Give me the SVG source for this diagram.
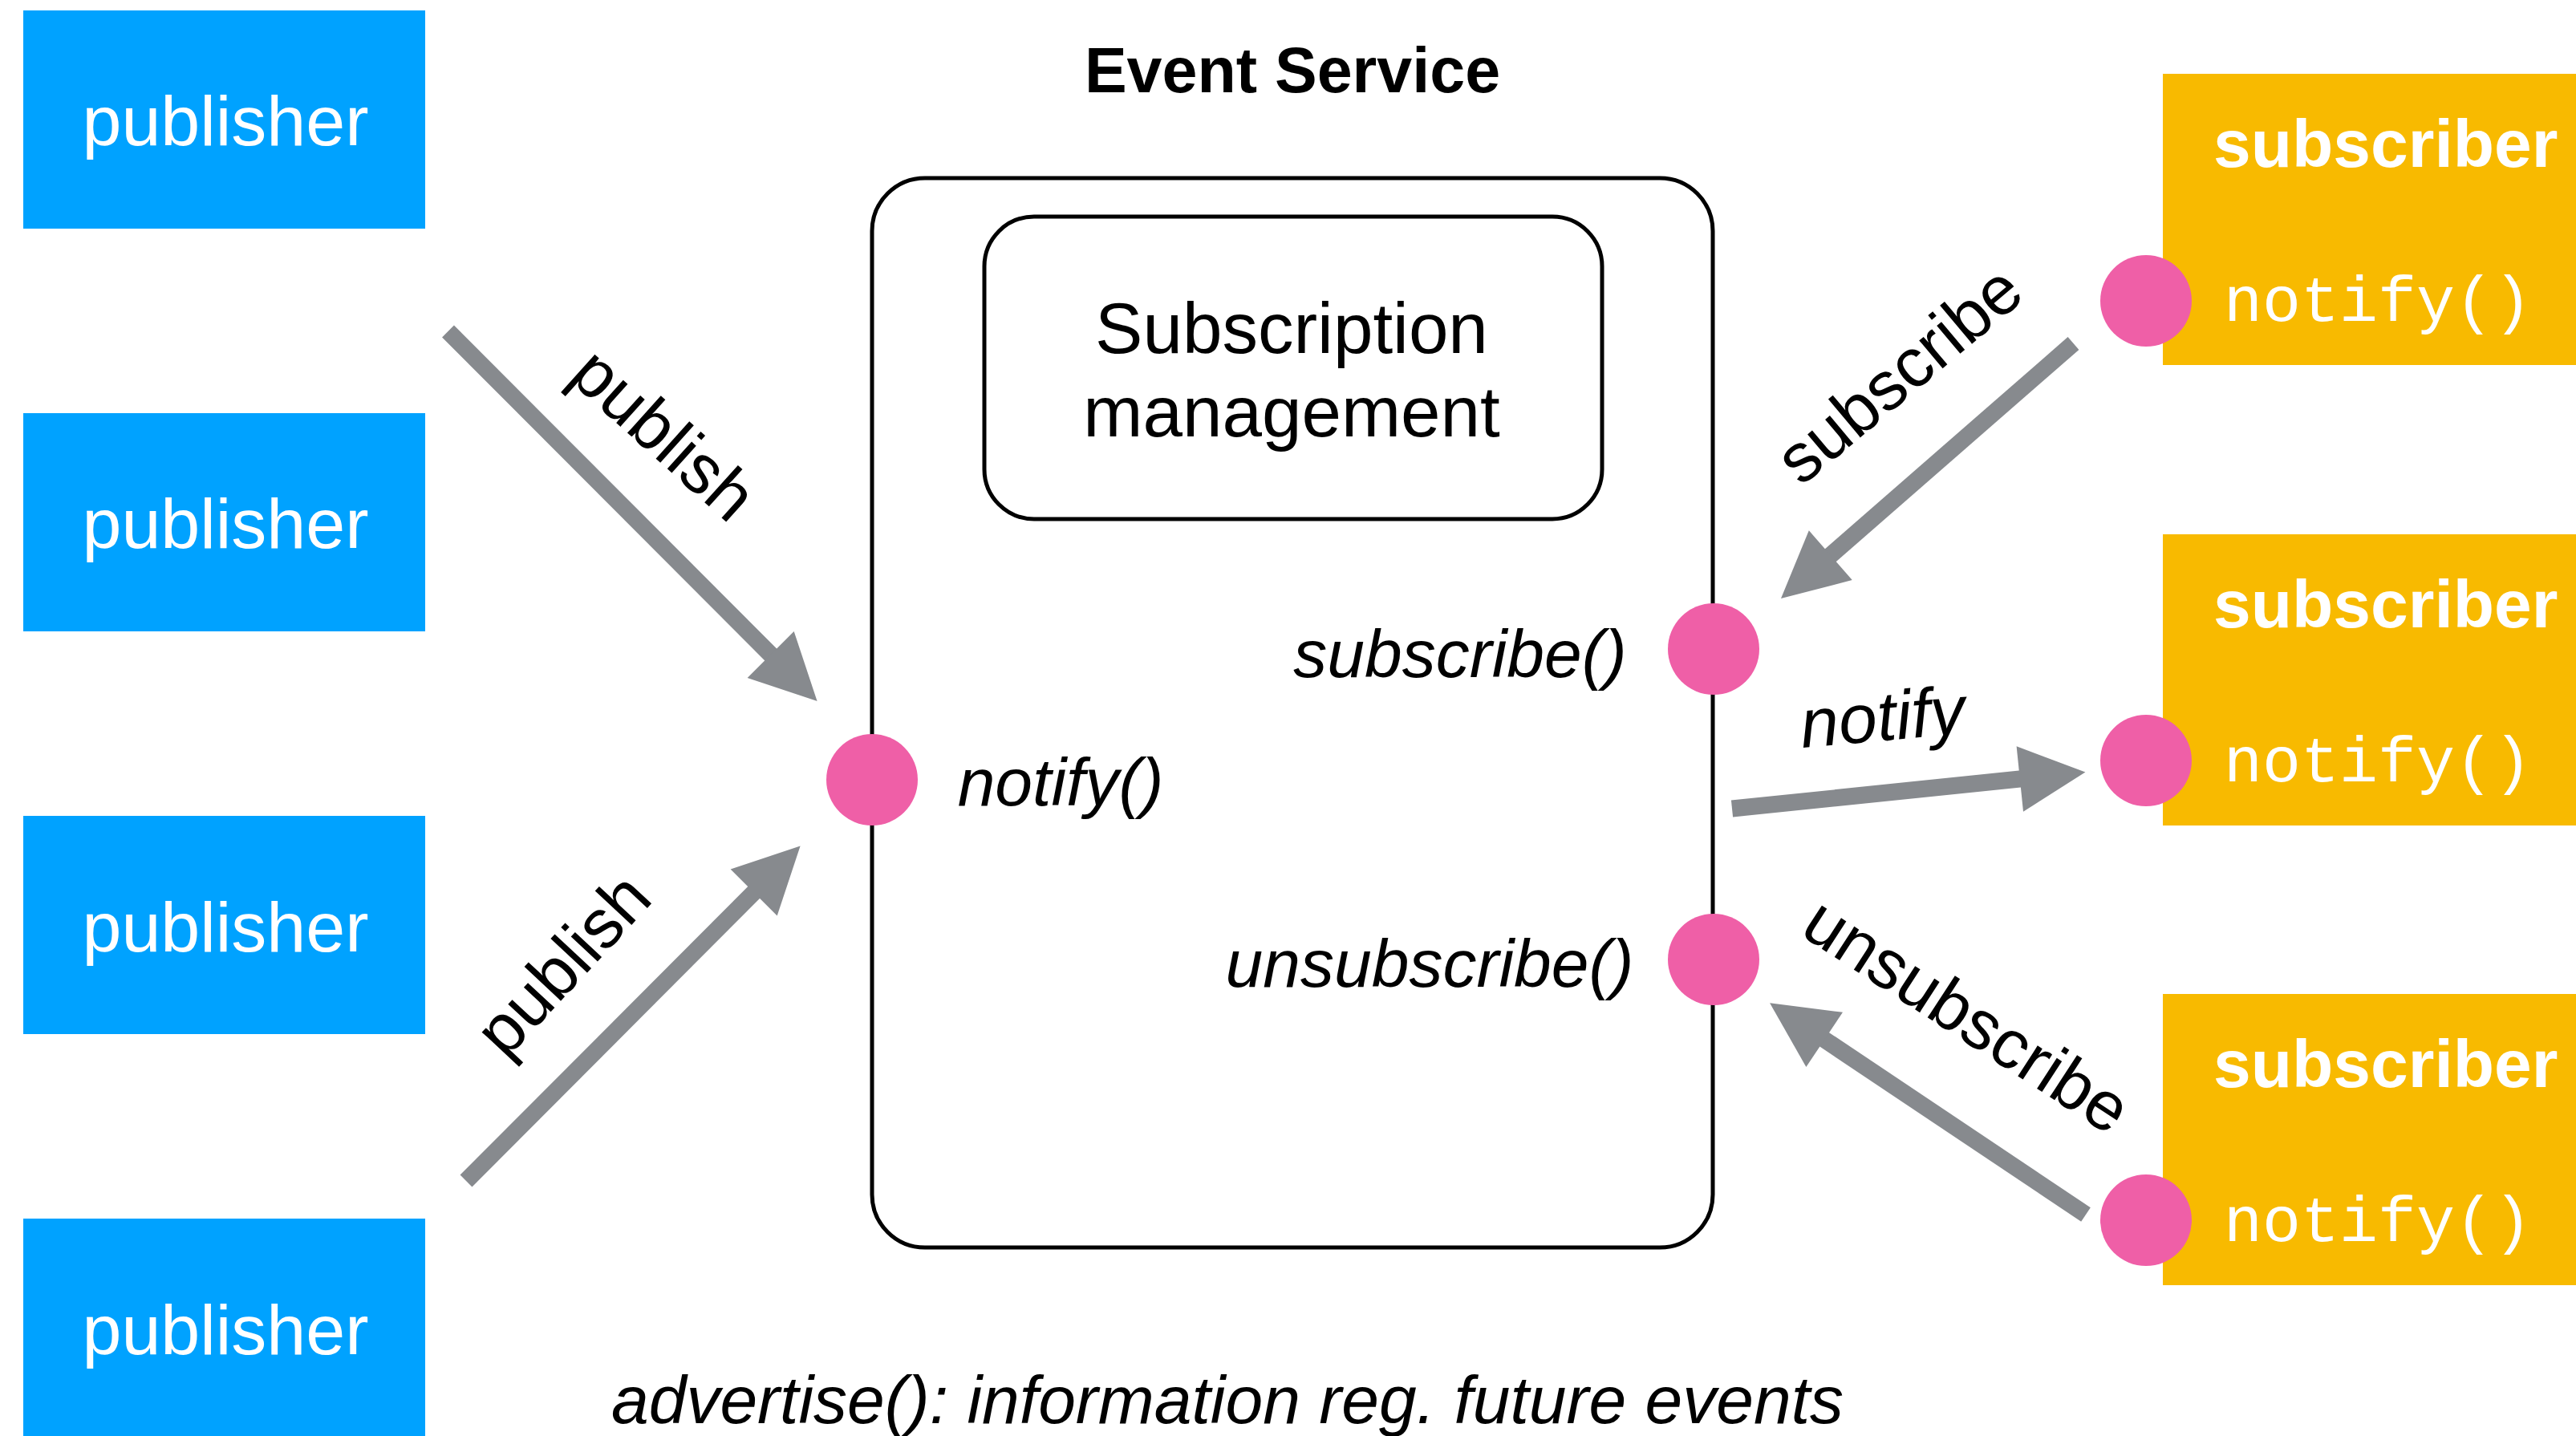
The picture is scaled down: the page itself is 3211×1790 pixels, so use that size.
<svg xmlns="http://www.w3.org/2000/svg" width="3211" height="1790" viewBox="0 0 3211 1790">
  <style>
    .pub-box { fill: #00A2FF; }
    .sub-box { fill: #F8BA00; }
    .port { fill: #EF5FA7; }
    .frame { fill: none; stroke: #000; stroke-width: 5; }
    .sans { font-family: "Liberation Sans", Arial, Helvetica, sans-serif; }
    .pub-label { font-size: 88px; fill: #fff; text-anchor: middle; }
    .sub-label { font-size: 84px; font-weight: bold; fill: #fff; }
    .mono { font-family: "Liberation Mono", "Courier New", monospace; font-size: 80px; fill: #fff; }
    .title { font-size: 79px; font-weight: bold; fill: #000; text-anchor: middle; }
    .inner { font-size: 89px; fill: #000; text-anchor: middle; }
    .op { font-size: 84px; font-style: italic; fill: #000; text-anchor: middle; }
    .edge-label { font-size: 86px; fill: #000; text-anchor: middle; }
    .link { stroke: #878A8E; stroke-width: 21; fill: none; stroke-linecap: butt; marker-end: url(#head); }
  </style>
  <defs>
    <marker id="head" markerUnits="userSpaceOnUse" markerWidth="82" markerHeight="82" refX="22" refY="41" orient="auto" overflow="visible">
      <path d="M0,0 L82,41 L0,82 Z" fill="#878A8E"/>
    </marker>
  </defs>

  <rect width="3211" height="1790" fill="#fff"/>

  <!-- publishers -->
  <g id="publisher-1">
    <rect class="pub-box" x="29" y="13" width="501" height="272"/>
    <text class="sans pub-label" x="281" y="181">publisher</text>
  </g>
  <g id="publisher-2">
    <rect class="pub-box" x="29" y="515" width="501" height="272"/>
    <text class="sans pub-label" x="281" y="683">publisher</text>
  </g>
  <g id="publisher-3">
    <rect class="pub-box" x="29" y="1017" width="501" height="272"/>
    <text class="sans pub-label" x="281" y="1186">publisher</text>
  </g>
  <g id="publisher-4">
    <rect class="pub-box" x="29" y="1519" width="501" height="272"/>
    <text class="sans pub-label" x="281" y="1688">publisher</text>
  </g>

  <!-- event service container -->
  <g id="event-service">
    <text class="sans title" x="1611" y="115">Event Service</text>
    <rect class="frame" x="1087" y="222" width="1048" height="1333" rx="66" ry="66"/>
  </g>

  <g id="subscription-management">
    <rect class="frame" x="1227" y="270" width="770" height="377" rx="62" ry="62"/>
    <text class="sans inner" x="1610" y="440">Subscription</text>
    <text class="sans inner" x="1610" y="544">management</text>
  </g>

  <!-- service interface ports -->
  <g id="port-notify">
    <circle class="port" cx="1087" cy="972" r="57"/>
    <text class="sans op" x="1322" y="1004">notify()</text>
  </g>
  <g id="port-subscribe">
    <circle class="port" cx="2136" cy="809" r="57"/>
    <text class="sans op" x="1820" y="844">subscribe()</text>
  </g>
  <g id="port-unsubscribe">
    <circle class="port" cx="2136" cy="1196" r="57"/>
    <text class="sans op" x="1782" y="1230">unsubscribe()</text>
  </g>

  <!-- subscribers -->
  <g id="subscriber-1">
    <rect class="sub-box" x="2696" y="92" width="515" height="363"/>
    <text class="sans sub-label" x="2759" y="208">subscriber</text>
    <text class="mono" x="2772" y="400">notify()</text>
    <circle class="port" cx="2675" cy="375" r="57"/>
  </g>
  <g id="subscriber-2">
    <rect class="sub-box" x="2696" y="666" width="515" height="363"/>
    <text class="sans sub-label" x="2759" y="782">subscriber</text>
    <text class="mono" x="2772" y="974">notify()</text>
    <circle class="port" cx="2675" cy="948" r="57"/>
  </g>
  <g id="subscriber-3">
    <rect class="sub-box" x="2696" y="1239" width="515" height="363"/>
    <text class="sans sub-label" x="2759" y="1355">subscriber</text>
    <text class="mono" x="2772" y="1547">notify()</text>
    <circle class="port" cx="2675" cy="1521" r="57"/>
  </g>

  <!-- connectors -->
  <g id="connectors">
    <line class="link" x1="558.5" y1="413" x2="976.2" y2="831.5"/>
    <text class="sans edge-label" transform="translate(808,563) rotate(42)">publish</text>

    <line class="link" x1="581" y1="1472" x2="955.2" y2="1096.9"/>
    <text class="sans edge-label" transform="translate(723,1222) rotate(-47)">publish</text>

    <line class="link" x1="2584.5" y1="428" x2="2265.2" y2="706.6"/>
    <text class="sans edge-label" transform="translate(2386,489) rotate(-40)">subscribe</text>

    <line class="link" x1="2159" y1="1008" x2="2539.7" y2="968.7"/>
    <text class="sans edge-label" font-style="italic" transform="translate(2349,923) rotate(-5)">notify</text>

    <line class="link" x1="2600" y1="1514" x2="2255.9" y2="1283.6"/>
    <text class="sans edge-label" transform="translate(2436,1290) rotate(33)">unsubscribe</text>
  </g>

  <text class="sans op" x="1530" y="1774">advertise(): information reg. future events</text>
</svg>
